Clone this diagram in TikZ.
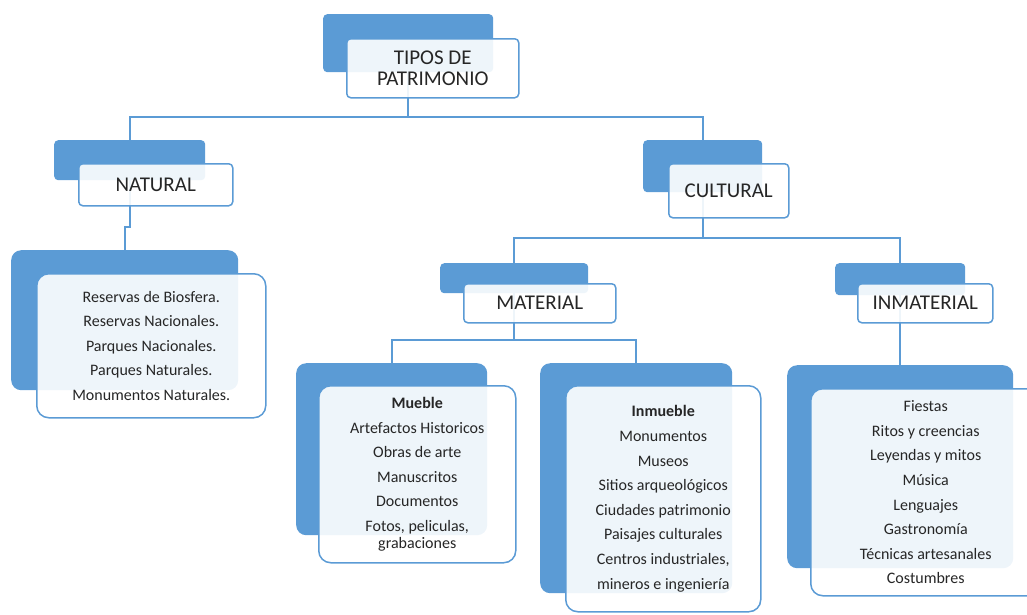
\documentclass[tikz,border=0pt]{standalone}
\usepackage{fontspec}
\setmainfont{Carlito}
\usepackage{xcolor}
\definecolor{boxblue}{HTML}{5B9BD5}
\definecolor{textgray}{HTML}{262626}
\newcommand{\nextitem}{\\[6.6pt]}
\tikzset{
    backbox/.style={
        fill=boxblue,
        rounded corners=4pt,
        inner sep=0pt,
        anchor=north west,
    },
    labelbox/.style={
        draw=boxblue,
        line width=1.5pt,
        fill=white,
        fill opacity=0.9,
        text opacity=1,
        text=textgray,
        rounded corners=4pt,
        inner sep=0pt,
        anchor=north west,
        align=center,
        font=\fontsize{21}{21}\selectfont,
    },
    listbox/.style={
        labelbox,
        rounded corners=12pt,
        font=\fontsize{16}{18}\selectfont,
    },
    link/.style={
        draw=boxblue,
        line width=2pt,
    },
}

\begin{document}
\begin{tikzpicture}[x=1pt, y=-1pt]
    \useasboundingbox (0,0) rectangle (1027,614);
    \clip (0,0) rectangle (1027,614);

    % back boxes
    \node[backbox, minimum width=170pt, minimum height=58pt] (tiposb) at (323,14) {};
    \node[backbox, minimum width=151pt, minimum height=40pt] (naturalb) at (54,140) {};
    \node[backbox, minimum width=119pt, minimum height=52pt] (culturalb) at (643,140) {};
    \node[backbox, minimum width=148pt, minimum height=30pt] (materialb) at (440,263) {};
    \node[backbox, minimum width=130pt, minimum height=32pt] (inmaterialb) at (835,263) {};
    \node[backbox, rounded corners=10pt, minimum width=227pt, minimum height=140pt] (natitemsb) at (11,250) {};
    \node[backbox, rounded corners=10pt, minimum width=191pt, minimum height=172pt] (muebleb) at (296,363) {};
    \node[backbox, rounded corners=10pt, minimum width=192pt, minimum height=230pt] (inmuebleb) at (540,363) {};
    \node[backbox, rounded corners=10pt, minimum width=226pt, minimum height=203pt] (inmatitemsb) at (787,365) {};

    % connectors
    \draw[link] (tiposb.south) -- ++(0,45) -| (naturalb.north);
    \draw[link] (tiposb.south) -- ++(0,45) -| (culturalb.north);
    \draw[link] (naturalb.south) -- ++(0,47) -| (natitemsb.north);
    \draw[link] (culturalb.south) -- ++(0,46) -| (materialb.north);
    \draw[link] (culturalb.south) -- ++(0,46) -| (inmaterialb.north);
    \draw[link] (materialb.south) -- ++(0,47) -| (muebleb.north);
    \draw[link] (materialb.south) -- ++(0,47) -| (inmuebleb.north);
    \draw[link] (inmaterialb.south) -- (inmatitemsb.north);

    % front boxes
    \node[labelbox, minimum width=172pt, minimum height=59pt] (tipos) at (346,38) {TIPOS DE\\PATRIMONIO};
    \node[labelbox, minimum width=154pt, minimum height=42pt] (natural) at (78,163) {NATURAL};
    \node[labelbox, minimum width=120pt, minimum height=54pt] (cultural) at (668,163) {CULTURAL};
    \node[labelbox, minimum width=152pt, minimum height=39pt] (material) at (463,283) {MATERIAL};
    \node[labelbox, minimum width=135pt, minimum height=39pt] (inmaterial) at (857,283) {INMATERIAL};

    \node[listbox, minimum width=229pt, minimum height=144pt] (natitems) at (36,273)
        {Reservas de Biosfera.\nextitem Reservas Nacionales.\nextitem Parques Nacionales.\nextitem
         Parques Naturales.\nextitem Monumentos Naturales.};
    \node[listbox, minimum width=197pt, minimum height=177pt] (mueble) at (318,385)
        {\textbf{Mueble}\nextitem Artefactos Historicos\nextitem Obras de arte\nextitem Manuscritos\nextitem
         Documentos\nextitem Fotos, peliculas,\\[-1pt]grabaciones};
    \node[listbox, minimum width=195pt, minimum height=226pt] (inmueble) at (565,385)
        {\textbf{Inmueble}\nextitem Monumentos\nextitem Museos\nextitem Sitios arqueológicos\nextitem
         Ciudades patrimonio\nextitem Paisajes culturales\nextitem Centros industriales,\nextitem
         mineros e ingeniería};
    \node[listbox, minimum width=230pt, minimum height=207pt] (inmatitems) at (810,388)
        {Fiestas\nextitem Ritos y creencias\nextitem Leyendas y mitos\nextitem Música\nextitem
         Lenguajes\nextitem Gastronomía\nextitem Técnicas artesanales\nextitem Costumbres};
\end{tikzpicture}
\end{document}
